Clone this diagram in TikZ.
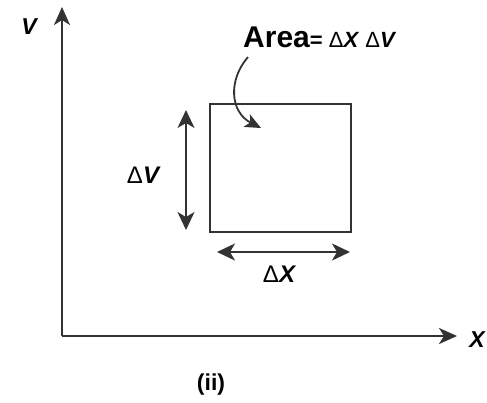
\documentclass[tikz,border=0pt]{standalone}
\usepackage{fontspec}
\setmainfont{Liberation Sans}
\usetikzlibrary{arrows.meta}
\definecolor{inkgray}{HTML}{333333}

\begin{document}
\begin{tikzpicture}[x=1pt, y=-1pt,
    axis/.style={draw=inkgray, line width=2.2pt, -{Stealth[length=18pt, width=16pt, inset=5pt]}},
    dimarrow/.style={draw=inkgray, line width=2pt, {Stealth[length=18pt, width=17pt, inset=5pt]}-{Stealth[length=18pt, width=17pt, inset=5pt]}},
    lbl/.style={font=\fontsize{24}{26}\selectfont\bfseries, inner sep=0pt}]
    \useasboundingbox (0,0) rectangle (487,402);
    % axes
    \coordinate (origin) at (62,336);
    \coordinate (vtip) at (62,7);
    \coordinate (xtip) at (457,336);
    \draw[axis] (origin) -- (vtip);
    \draw[axis] (origin) -- (xtip);
    \node[lbl, font=\fontsize{23}{25}\selectfont\bfseries] (vlabel) at (29,27) {\itshape V};
    \node[lbl, font=\fontsize{23}{25}\selectfont\bfseries] (xlabel) at (477,340) {\itshape X};
    % element of area
    \node[draw=inkgray, line width=2pt, minimum width=141pt, minimum height=128pt, inner sep=0pt] (box) at (280.5,168) {};
    \coordinate (vtop) at (186,110);
    \coordinate (vbot) at (186,230);
    \coordinate (xleft) at (217,252);
    \coordinate (xright) at (350,252);
    \draw[dimarrow] (vtop) -- (vbot);
    \draw[dimarrow] (xleft) -- (xright);
    \node[lbl] (dv) at (143,175) {\mdseries Δ\bfseries\itshape V};
    \node[lbl] (dx) at (279,274) {\mdseries Δ\bfseries\itshape X};
    \node[inner sep=0pt, anchor=base west] (area) at (243,47)
      {\fontsize{30}{32}\selectfont\bfseries Area{\fontsize{22}{24}\selectfont= \mdseries Δ\bfseries\itshape X\/ \mdseries\upshape Δ\bfseries\itshape V}};
    \coordinate (astart) at (248,57);
    \coordinate (aend) at (261,128);
    \draw[draw=inkgray, line width=1.8pt, -{Stealth[length=16pt, width=14pt, inset=4pt]}] (astart) .. controls (228,80) and (230,112) .. (aend);
    % caption
    \node[lbl, font=\fontsize{23}{25}\selectfont\bfseries] (caption) at (211,385) {(ii)};
  \end{tikzpicture}
\end{document}
